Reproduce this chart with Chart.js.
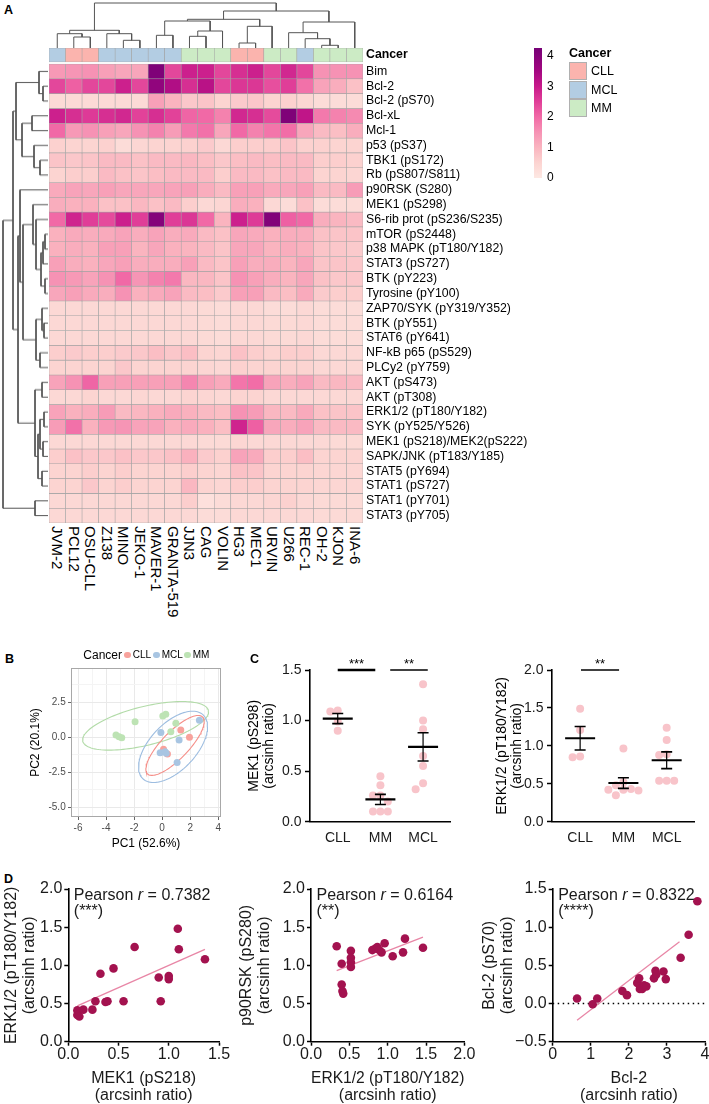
<!DOCTYPE html>
<html><head><meta charset="utf-8"><title>Figure</title>
<script src="https://cdn.jsdelivr.net/npm/chart.js@4.4.1/dist/chart.umd.min.js"></script>
<style>
html,body{margin:0;padding:0;background:#fff;}
#root{position:relative;width:709px;height:1104px;overflow:hidden;background:#fff;}
canvas{position:absolute;}
.t{position:absolute;white-space:nowrap;font-family:'Liberation Sans',Arial,Helvetica,sans-serif;color:#000;}
.v{writing-mode:vertical-rl;}
.box{position:absolute;box-sizing:border-box;}
</style></head><body><div id="root"></div><script>
// ---------------- DATA ----------------
const cellLines = ['JVM-2','PCL12','OSU-CLL','Z138','MINO','JEKO-1','MAVER-1','GRANTA-519','JJN3','CAG','VOLIN','HG3','MEC1','URVIN','U266','REC-1','OH-2','KJON','INA-6'];
const cellCancer = ['MCL','CLL','CLL','MCL','MCL','MCL','MCL','MCL','MM','MM','MM','CLL','CLL','MM','MM','MCL','MM','MM','MM'];
const proteins = ['Bim','Bcl-2','Bcl-2 (pS70)','Bcl-xL','Mcl-1','p53 (pS37)','TBK1 (pS172)','Rb (pS807/S811)','p90RSK (S280)','MEK1 (pS298)','S6-rib prot (pS236/S235)','mTOR (pS2448)','p38 MAPK (pT180/Y182)','STAT3 (pS727)','BTK (pY223)','Tyrosine (pY100)','ZAP70/SYK (pY319/Y352)','BTK (pY551)','STAT6 (pY641)','NF-kB p65 (pS529)','PLCy2 (pY759)','AKT (pS473)','AKT (pT308)','ERK1/2 (pT180/Y182)','SYK (pY525/Y526)','MEK1 (pS218)/MEK2(pS222)','SAPK/JNK (pT183/Y185)','STAT5 (pY694)','STAT1 (pS727)','STAT1 (pY701)','STAT3 (pY705)'];
const heat = [
[1.4,1.45,1.5,1.3,1.2,1.2,4.1,2.4,2.9,2.9,2.4,2.7,2.9,2.4,2.8,2.4,1.5,1.5,1.5],
[2.4,2.1,2.4,2.4,2.9,2.4,3.8,3.3,2.7,3.2,2.4,2.6,2.6,2.3,2.5,1.9,1.25,1.1,0.8],
[0.35,0.35,0.35,0.35,0.35,0.35,1.3,1.0,0.7,0.75,0.5,0.65,0.7,0.5,0.55,0.45,0.3,0.3,0.3],
[2.9,2.7,2.55,2.7,2.8,2.45,2.7,2.45,2.05,2.0,1.7,2.8,2.7,2.35,4.1,3.1,1.8,1.7,1.6],
[2.0,1.4,1.5,1.3,1.2,1.5,1.7,1.35,1.8,1.9,1.2,2.0,1.7,1.85,1.95,1.2,0.9,0.85,1.1],
[0.55,0.5,0.5,0.55,0.3,0.45,0.5,0.5,0.55,0.65,0.4,0.6,0.6,0.6,0.75,0.55,0.55,0.5,0.5],
[0.75,0.7,0.75,0.9,0.9,0.8,0.9,0.9,0.95,0.85,0.7,0.85,0.9,0.85,0.9,0.9,0.6,0.6,0.55],
[0.5,0.6,0.6,0.9,0.8,0.75,0.85,0.9,0.9,0.9,0.6,0.9,0.9,0.8,0.9,0.9,0.5,0.5,0.45],
[1.15,1.25,1.2,1.3,1.2,1.2,1.2,1.25,1.3,1.1,0.9,1.3,1.3,1.15,1.2,1.3,0.9,0.9,1.35],
[1.1,1.05,1.05,0.8,0.8,0.95,0.8,0.9,0.6,0.4,0.45,1.1,1.05,0.4,0.3,0.8,0.3,0.3,0.3],
[2.0,2.85,2.5,2.35,2.9,2.5,4.0,2.5,2.6,2.0,1.0,2.9,2.55,4.05,2.1,2.0,1.1,1.0,0.9],
[1.05,1.15,1.1,1.15,1.25,1.1,1.25,1.1,1.15,0.9,0.8,1.2,1.15,1.05,1.1,1.1,0.8,0.75,0.75],
[1.05,1.1,1.05,1.3,1.3,1.0,1.2,1.05,1.0,0.9,0.75,1.2,1.2,1.0,1.1,1.05,0.75,0.7,0.65],
[1.3,1.1,1.05,1.2,1.3,1.1,1.1,1.1,1.3,0.9,0.75,1.3,1.1,1.1,1.0,1.2,0.75,0.75,0.7],
[1.5,1.4,1.25,1.5,2.0,1.45,1.7,1.8,0.95,0.95,0.75,1.5,1.3,1.1,1.0,1.2,0.8,0.7,0.7],
[1.2,1.3,1.15,1.1,1.5,1.05,1.15,1.25,0.9,0.85,0.65,1.3,1.3,0.9,0.85,1.15,0.65,0.6,0.6],
[0.4,0.4,0.4,0.4,0.4,0.4,0.4,0.4,0.4,0.35,0.3,0.4,0.4,0.3,0.3,0.4,0.3,0.3,0.3],
[0.4,0.4,0.4,0.4,0.4,0.4,0.4,0.4,0.4,0.35,0.3,0.4,0.4,0.35,0.35,0.4,0.3,0.3,0.3],
[0.4,0.4,0.4,0.4,0.4,0.4,0.4,0.4,0.4,0.35,0.3,0.4,0.4,0.35,0.35,0.4,0.3,0.3,0.3],
[0.6,0.65,0.6,0.6,0.65,0.7,0.85,0.7,0.85,0.5,0.45,0.8,0.6,0.5,0.6,0.6,0.4,0.4,0.4],
[0.5,0.5,0.5,0.5,0.7,0.5,0.5,0.5,0.5,0.45,0.4,0.55,0.5,0.5,0.5,0.5,0.4,0.4,0.4],
[1.25,1.5,2.05,1.3,1.3,1.3,1.3,1.3,1.65,1.3,1.15,1.85,1.95,1.25,1.1,1.25,0.9,0.95,0.9],
[0.4,0.4,0.5,0.4,0.4,0.45,0.4,0.4,0.5,0.45,0.4,0.5,0.5,0.4,0.4,0.4,0.4,0.4,0.4],
[1.25,1.05,1.1,1.35,0.9,0.95,1.05,1.15,1.05,0.9,0.85,1.5,1.35,0.95,0.9,1.15,0.8,0.75,0.75],
[1.35,1.9,1.05,1.4,1.45,1.25,1.25,1.05,1.15,1.05,0.85,2.85,2.1,1.2,1.1,1.25,0.9,0.9,0.9],
[0.4,0.4,0.4,0.4,0.4,0.4,0.4,0.4,0.4,0.35,0.35,0.45,0.4,0.4,0.4,0.4,0.4,0.35,0.35],
[0.6,0.8,0.7,0.7,0.8,0.7,0.7,0.8,1.05,0.65,0.55,1.25,1.15,0.6,0.6,0.85,0.5,0.5,0.5],
[0.5,0.5,0.6,0.5,0.6,0.5,0.5,0.5,0.6,0.5,0.45,0.8,0.75,0.5,0.5,0.5,0.45,0.45,0.45],
[0.5,0.5,0.7,0.5,0.6,0.5,0.5,0.5,0.95,0.5,0.45,0.6,0.6,0.5,0.5,0.5,0.45,0.45,0.45],
[0.4,0.4,0.4,0.4,0.4,0.4,0.4,0.4,0.6,0.2,0.3,0.4,0.4,0.45,0.55,0.4,0.35,0.35,0.35],
[0.4,0.4,0.4,0.4,0.4,0.4,0.4,0.4,0.4,0.3,0.3,0.4,0.4,0.4,0.4,0.4,0.35,0.35,0.35]
];
// dendrogram merges: [childA, childB, height]; leaves are 0..n-1, merge k creates node n+k
const colMerges = [[1,2,11],[0,19,14.3],[4,5,7.7],[3,21,14.3],[20,22,17.7],[6,7,12.7],[8,9,11.7],[25,10,17],[24,26,27],[11,12,5],[28,13,21.7],[27,29,28.7],[16,17,2.7],[15,31,9.3],[14,32,15.3],[33,18,26],[30,34,37],[23,35,45]];
const rowMerges = [[1,2,5],[0,31,9],[3,4,16],[6,7,8],[5,34,14],[33,35,26],[32,36,32],[11,12,3],[38,13,5],[14,15,3],[39,40,7],[10,41,12],[9,42,15],[17,18,4],[16,44,6],[19,20,8],[45,46,12],[43,47,25],[8,48,28],[21,22,6],[23,24,4],[25,26,5],[51,52,8],[27,28,6],[53,54,10],[50,55,13],[49,56,30],[37,57,35],[29,30,13],[58,59,45]];
const colorbarTicks = [0,1,2,3,4];
const cancerTypes = ['CLL','MCL','MM'];
// Panel B (PCA)
const pc1CLL = [1.33,1.95,0.10,0.38], pc2CLL = [0.50,-0.02,-0.88,-1.21];
const pc1MCL = [-0.09,1.21,2.66,-0.14,0.21,0.29,1.07], pc2MCL = [0.33,-0.21,1.19,-1.12,-1.05,-1.16,-1.81];
const pc1MM = [-3.29,-3.07,-2.88,-1.93,0.05,0.26,0.98,0.62], pc2MM = [0.14,0.02,-0.05,1.09,1.50,1.62,0.98,0.38];
const ellCx = [0.92,0.78,-1.18], ellCy = [-0.6,-0.7,0.8], ellAx = [2.08,2.46,4.49], ellAy = [1.7,1.44,1.0], ellB = [1.3,2.1,1.42];
const pcTicksX = [-6,-5,-4,-3,-2,-1,0,1,2,3,4], pcTicksY = [-5,-3.75,-2.5,-1.25,0,1.25,2.5,3.75];
// Panel C
const groupsC = ['CLL','MM','MCL'];
const mek1CLL = [1.10,1.09,0.99,0.90], mek1MM = [0.45,0.36,0.26,0.26,0.20,0.10,0.10,0.10], mek1MCL = [1.36,1.00,0.915,0.65,0.55,0.38,0.32];
const mek1Mean = [1.02,0.22,0.74], mek1Sem = [0.05,0.05,0.14];
const mek1SigFrom = [0,1.23], mek1SigTo = [0.88,2.11], mek1SigText = ['***','**'];
const erkCLL = [1.49,1.21,0.86,0.85], erkMM = [0.965,0.52,0.48,0.43,0.42,0.42,0.41,0.35], erkMCL = [1.24,1.076,0.89,0.88,0.54,0.54,0.54];
const erkMean = [1.10,0.51,0.81], erkSem = [0.155,0.07,0.11];
const erkSigFrom = [0.02], erkSigTo = [0.9], erkSigText = ['**'];
const ticksC1 = [0,0.5,1,1.5], ticksC2 = [0,0.5,1,1.5,2];
// Panel D
const d1x = [0.09,0.09,0.11,0.15,0.24,0.27,0.32,0.45,0.37,0.39,0.55,0.66,0.90,0.92,1.00,1.00,1.09,1.10,1.36];
const d1y = [0.41,0.35,0.33,0.42,0.42,0.53,0.89,0.96,0.52,0.53,0.53,1.24,0.84,0.53,0.86,0.82,1.48,1.21,1.08];
const d1FitX = [0.09,1.36], d1FitY = [0.47,1.21];
const d2x = [0.335,0.40,0.40,0.41,0.42,0.52,0.52,0.52,0.52,0.80,0.84,0.865,0.89,0.92,0.96,1.065,1.20,1.225,1.46];
const d2y = [1.25,1.02,0.75,0.665,0.63,1.19,1.10,1.04,0.98,1.20,1.22,1.24,1.20,1.17,1.29,1.12,1.17,1.35,1.23];
const d2FitX = [0.335,1.46], d2FitY = [0.93,1.37];
const d3x = [0.64,1.05,1.17,1.83,1.95,2.22,2.27,2.29,2.35,2.40,2.46,2.66,2.70,2.72,2.91,2.97,3.36,3.57,3.80];
const d3y = [0.065,-0.01,0.065,0.165,0.11,0.27,0.33,0.19,0.19,0.24,0.225,0.33,0.43,0.38,0.42,0.32,0.60,0.90,1.34];
const d3FitX = [0.64,3.33], d3FitY = [-0.22,0.81];
const pearsonR = ['0.7382','0.6164','0.8322'], pearsonStars = ['(***)','(**)','(****)'];

// ---------------- HELPERS ----------------
const FONT = "'Liberation Sans', Arial, Helvetica, sans-serif";
Chart.defaults.font.family = FONT;
Chart.defaults.color = '#000';
Chart.defaults.animation = false;
Chart.defaults.responsive = false;
Chart.defaults.events = [];
Chart.defaults.plugins.legend.display = false;
Chart.defaults.plugins.tooltip.enabled = false;
const root = document.getElementById('root');
function canvasAt(l,t,w,h){const c=document.createElement('canvas');c.width=w;c.height=h;c.style.left=l+'px';c.style.top=t+'px';c.style.width=w+'px';c.style.height=h+'px';root.appendChild(c);return c;}
function text(html,x,base,o){o=o||{};const fs=o.size||12;const d=document.createElement('div');d.className='t';d.innerHTML=html;d.style.fontSize=fs+'px';d.style.lineHeight=fs+'px';if(o.bold)d.style.fontWeight='bold';if(o.color)d.style.color=o.color;d.style.top=(base-0.8465*fs)+'px';d.style.left='0px';root.appendChild(d);const w=d.getBoundingClientRect().width;let left=x;if(o.align==='center')left=x-w/2;else if(o.align==='right')left=x-w;d.style.left=left+'px';return d;}
function box(l,t,w,h,bg,border,radius){const d=document.createElement('div');d.className='box';d.style.cssText+=`left:${l}px;top:${t}px;width:${w}px;height:${h}px;background:${bg};`+(border?`border:1px solid ${border};`:'')+(radius?`border-radius:${radius}px;`:'');root.appendChild(d);return d;}
function fixSize(size){return s=>{if(s.isHorizontal())s.height=size;else s.width=size;s.paddingLeft=0;s.paddingRight=0;s.paddingTop=0;s.paddingBottom=0;};}
function setTicks(list){return s=>{s.ticks=list.map(v=>({value:v}));};}
const heatStops=[[0,[253,232,227]],[0.5,[252,212,209]],[1,[250,180,191]],[1.5,[246,146,180]],[2,[241,105,166]],[2.5,[224,62,152]],[3,[199,25,138]],[3.5,[163,7,129]],[4.25,[118,1,118]]];
function heatColor(v){let i=0;while(i<heatStops.length-2&&v>heatStops[i+1][0])i++;const [v0,c0]=heatStops[i],[v1,c1]=heatStops[i+1];let f=(v-v0)/(v1-v0);f=Math.max(0,Math.min(1,f));const c=c0.map((x,k)=>Math.round(x+(c1[k]-x)*f));return `rgb(${c[0]},${c[1]},${c[2]})`;}
const cancerColor={CLL:'#fbb4ae',MCL:'#b3cde3',MM:'#ccebc5'};
function dendroPath(merges,n){const pos=[],hgt=[];for(let i=0;i<n;i++){pos[i]=i;hgt[i]=0;}const pts=[];merges.forEach(([a,b,d],k)=>{const id=n+k;pos[id]=(pos[a]+pos[b])/2;hgt[id]=d;pts.push({p:pos[a],h:hgt[a]},{p:pos[a],h:d},{p:pos[b],h:d},{p:pos[b],h:hgt[b]},null);});return pts;}

// ---------------- PANEL A ----------------
text('A',4,15,{size:12.5,bold:true});
const HM={left:49,top:48,w:314,h:475};
const annoTop=-1.583, annoBot=-0.635;
const cellStyle={grouped:false,borderSkipped:false,borderWidth:0.6,borderColor:'#a3a3a3',barPercentage:1,categoryPercentage:1};
const hmDatasets=heat.map((row,r)=>Object.assign({data:row.map(()=>[r-0.5,r+0.5]),backgroundColor:row.map(heatColor)},cellStyle));
hmDatasets.push(Object.assign({data:cellCancer.map(()=>[annoTop,annoBot]),backgroundColor:cellCancer.map(c=>cancerColor[c])},cellStyle));
const rowTicks=[(annoTop+annoBot)/2].concat(proteins.map((p,i)=>i));
const hm=new Chart(canvasAt(HM.left,HM.top,HM.w+175,HM.h),{type:'bar',data:{labels:cellLines,datasets:hmDatasets},
 options:{layout:{padding:0},scales:{
  x:{display:false,offset:true},
  y:{type:'linear',position:'right',reverse:true,min:annoTop,max:proteins.length-0.5,grid:{display:false,drawTicks:false},border:{display:false},
     afterBuildTicks:setTicks(rowTicks),afterFit:fixSize(175),
     ticks:{autoSkip:false,padding:3,color:'#000',font:c=>(c.tick&&c.tick.value<-0.9)?{size:12.3,weight:'bold'}:{size:12.3},callback:v=>v<-0.9?'Cancer':proteins[Math.round(v)]}}
 }}});
cellLines.forEach((n,i)=>{const cx=HM.left+hm.scales.x.getPixelForValue(i);const d=document.createElement('div');d.className='t v';d.textContent=n;d.style.fontSize='15px';d.style.lineHeight='16px';d.style.width='16px';d.style.left=(cx-8)+'px';d.style.top='526px';root.appendChild(d);});
// top dendrogram
const colPath=dendroPath(colMerges,cellLines.length);
new Chart(canvasAt(HM.left,0,HM.w,48),{type:'scatter',data:{datasets:[{data:colPath.map(q=>q?{x:q.p,y:q.h}:{x:null,y:null}),showLine:true,spanGaps:false,pointRadius:0,borderColor:'#555',borderWidth:1,clip:false}]},
 options:{layout:{padding:0},scales:{x:{display:false,min:-0.5,max:cellLines.length-0.5},y:{display:false,min:0,max:48}}}});
// left dendrogram
const rowPath=dendroPath(rowMerges,proteins.length);
const rowTopPx=HM.top+hm.scales.y.getPixelForValue(-0.5), rowBotPx=HM.top+hm.scales.y.getPixelForValue(proteins.length-0.5);
new Chart(canvasAt(0,rowTopPx,48,rowBotPx-rowTopPx),{type:'scatter',data:{datasets:[{data:rowPath.map(q=>q?{x:q.h,y:q.p}:{x:null,y:null}),showLine:true,spanGaps:false,pointRadius:0,borderColor:'#555',borderWidth:1,clip:false}]},
 options:{layout:{padding:0},scales:{x:{display:false,min:0,max:48,reverse:true},y:{display:false,min:-0.5,max:proteins.length-0.5,reverse:true}}}});
// colour bar
function barGradient(ctx){const ch=ctx.chart,y=ch.scales&&ch.scales.y;if(!y)return '#f9b4bf';const p0=y.getPixelForValue(0),p1=y.getPixelForValue(4.25);if(!isFinite(p0)||!isFinite(p1)||p0===p1)return '#f9b4bf';const g=ch.ctx.createLinearGradient(0,p0,0,p1);for(let v=0;v<=4.25;v+=0.25)g.addColorStop(v/4.25,heatColor(v));return g;}
const cb=new Chart(canvasAt(534,40,38,146),{type:'bar',data:{labels:[''],datasets:[{data:[[0,4.25]],barPercentage:1,categoryPercentage:1,borderWidth:0,backgroundColor:barGradient}]},
 options:{layout:{padding:{top:8,bottom:8}},scales:{x:{display:false},y:{position:'right',min:0,max:4.25,afterBuildTicks:setTicks(colorbarTicks),afterFit:fixSize(30),grid:{display:false,drawTicks:false},border:{display:false},ticks:{padding:5,font:{size:12}}}}}});
cb.update();
// annotation legend
text('Cancer',569,57.5,{size:12.5,bold:true});
cancerTypes.forEach((c,i)=>{box(569.3,62.3+i*18.2,18.2,18.2,cancerColor[c],'#b0b0b0');text(c,591,76+i*18.2,{size:12.5});});

// ---------------- PANEL B ----------------
text('B',5,664,{size:12.5,bold:true});
const pcaCol=['#f8a29c','#a8c5e2','#bde3b4'], ellCol=['#f58e88','#9dbde0','#b2dba8'];
const pcaX=[pc1CLL,pc1MCL,pc1MM], pcaY=[pc2CLL,pc2MCL,pc2MM];
const bSets=[];
cancerTypes.forEach((c,g)=>{const pts=[];for(let k=0;k<=120;k++){const t=2*Math.PI*k/120;pts.push({x:ellCx[g]+ellAx[g]*Math.cos(t),y:ellCy[g]+ellAy[g]*Math.cos(t)+ellB[g]*Math.sin(t)});}
 bSets.push({data:pts,showLine:true,pointRadius:0,borderColor:ellCol[g],borderWidth:1.1});});
cancerTypes.forEach((c,g)=>{bSets.unshift({data:pcaX[g].map((x,i)=>({x:x,y:pcaY[g][i]})),pointRadius:3.5,backgroundColor:pcaCol[g],borderWidth:0});});
const panelBorder={id:'panelBorder',afterDraw(ch){const {ctx,chartArea:a}=ch;ctx.save();ctx.strokeStyle='#a8a8a8';ctx.lineWidth=1;ctx.strokeRect(Math.round(a.left)+0.5,Math.round(a.top)+0.5,Math.round(a.right-a.left)-1,Math.round(a.bottom-a.top)-1);ctx.restore();}};
new Chart(canvasAt(0,640,228,217),{type:'scatter',data:{datasets:bSets},plugins:[panelBorder],
 options:{layout:{padding:{left:24,top:28,right:7,bottom:2}},scales:{
  x:{min:-6.5,max:4.2,afterBuildTicks:setTicks(pcTicksX),afterFit:fixSize(38),border:{display:false},
     grid:{color:c=>c.tick&&c.tick.value%2===0?'#e9e9e9':'#f4f4f4',tickColor:c=>c.tick&&c.tick.value%2===0?'#666':'rgba(0,0,0,0)',tickLength:3},
     ticks:{autoSkip:false,maxRotation:0,padding:2,font:{size:10,lineHeight:1.2},color:'#4d4d4d',callback:v=>v%2===0?String(v):''},
     title:{display:true,text:'PC1 (52.6%)',font:{size:12,lineHeight:1.2},padding:{top:0,bottom:4},color:'#000'}},
  y:{min:-5.71,max:4.93,afterBuildTicks:setTicks(pcTicksY),afterFit:fixSize(47),border:{display:false},
     grid:{color:c=>c.tick&&c.tick.value%2.5===0?'#e9e9e9':'#f4f4f4',tickColor:c=>c.tick&&c.tick.value%2.5===0?'#666':'rgba(0,0,0,0)',tickLength:3},
     ticks:{autoSkip:false,padding:2.3,font:{size:10},color:'#4d4d4d',callback:v=>v%2.5===0?v.toFixed(1):''},
     title:{display:true,text:'PC2 (20.1%)',font:{size:12,lineHeight:1.2},padding:{top:4,bottom:0},color:'#000'}}
 }}});
text('Cancer',83.3,659.3,{size:12});
const legX=[127.7,156.7,187.7];
cancerTypes.forEach((c,i)=>{box(legX[i]-3.4,651.6,6.8,6.8,pcaCol[i],null,4);text(c,legX[i]+5,658.6,{size:10});});

// ---------------- PANEL C ----------------
text('C',250,664,{size:12.5,bold:true});
function swarm(vals,pxY,pxX,step,diam){const idx=vals.map((v,i)=>i).sort((a,b)=>vals[b]-vals[a]);const placed=[];const off=vals.map(()=>0);
 idx.forEach(i=>{const yp=vals[i]*pxY;for(let k=0;k<40;k++){const cand=k===0?0:(k%2===1?-1:1)*Math.ceil(k/2)*step;if(placed.every(p=>(p.x-cand)*(p.x-cand)+(p.y-yp)*(p.y-yp)>=diam*diam)){off[i]=cand/pxX;placed.push({x:cand,y:yp});break;}}});return off;}
function dotPlot(o){
 const sets=[];
 sets.push({data:o.mean.map((m,i)=>({x:i,y:m})),pointStyle:'line',pointRadius:15,pointBorderWidth:2.2,pointBorderColor:'#000',pointBackgroundColor:'#000'});
 const caps=[];o.mean.forEach((m,i)=>{caps.push({x:i,y:m-o.sem[i]},{x:i,y:m+o.sem[i]});});
 sets.push({data:caps,pointStyle:'line',pointRadius:5.5,pointBorderWidth:1.6,pointBorderColor:'#000'});
 const vert=[];o.mean.forEach((m,i)=>{vert.push({x:i,y:m-o.sem[i]},{x:i,y:m+o.sem[i]},{x:null,y:null});});
 sets.push({data:vert,showLine:true,spanGaps:false,pointRadius:0,borderColor:'#000',borderWidth:1.2});
 o.sigFrom.forEach((a,k)=>{sets.push({data:[{x:a,y:o.ymax},{x:o.sigTo[k],y:o.ymax}],showLine:true,pointRadius:0,borderColor:'#000',borderWidth:o.sigW[k],clip:false});});
 const pts=[];o.groups.forEach((vals,g)=>{const off=swarm(vals,o.pxY,o.pxX,8,7.5);vals.forEach((v,i)=>pts.push({x:g+off[i],y:v}));});
 sets.push({data:pts,pointRadius:4,backgroundColor:'#f8c4ca',borderWidth:0});
 const ch=new Chart(canvasAt(o.left,o.top,o.w,o.h),{type:'scatter',data:{datasets:sets},
  options:{layout:{padding:o.pad},scales:{
   x:{min:-0.65,max:2.65,afterBuildTicks:setTicks([0,1,2]),afterFit:fixSize(30),grid:{display:false,drawTicks:false},border:{display:true,color:'#000',width:1.6},
      ticks:{autoSkip:false,maxRotation:0,padding:9.3,font:{size:14,lineHeight:1},color:'#1a1a1a',callback:v=>groupsC[v]}},
   y:{min:0,max:o.ymax,afterBuildTicks:setTicks(o.yTicks),afterFit:fixSize(o.yW),grid:{drawOnChartArea:false,tickLength:5,tickColor:'#000',tickWidth:1.5},border:{display:true,color:'#000',width:1.6},
      ticks:{autoSkip:false,padding:3.5,font:{size:14,lineHeight:1},color:'#1a1a1a',callback:v=>v.toFixed(1)},
      title:{display:true,text:o.title,font:{size:14,lineHeight:1.1},padding:{top:0,bottom:0},color:'#000'}}
  }}});
 o.sigFrom.forEach((a,k)=>{const cx=o.left+ch.scales.x.getPixelForValue((a+o.sigTo[k])/2);const y=o.top+ch.scales.y.getPixelForValue(o.ymax);text(o.sigText[k],cx,y-1.7,{size:13,align:'center'});});
 return ch;
}
dotPlot({left:236,top:640,w:232,h:215,pad:{left:10.5,top:30,right:6,bottom:3.3},yW:63.5,ymax:1.5,yTicks:ticksC1,pxY:101,pxX:46,
 groups:[mek1CLL,mek1MM,mek1MCL],mean:mek1Mean,sem:mek1Sem,sigFrom:mek1SigFrom,sigTo:mek1SigTo,sigText:mek1SigText,sigW:[2.4,1.4],title:['MEK1 (pS298)','(arcsinh ratio)']});
dotPlot({left:480,top:640,w:232,h:215,pad:{left:14.2,top:30,right:5.3,bottom:3.3},yW:57.8,ymax:2,yTicks:ticksC2,pxY:76,pxX:46,
 groups:[erkCLL,erkMM,erkMCL],mean:erkMean,sem:erkSem,sigFrom:erkSigFrom,sigTo:erkSigTo,sigText:erkSigText,sigW:[1.4],title:['ERK1/2 (pT180/Y182)','(arcsinh ratio)']});

// ---------------- PANEL D ----------------
text('D',4,884,{size:12.5,bold:true});
const fmt1=v=>(v<0?'\u2212':'')+Math.abs(v).toFixed(1);
function scatterPlot(o){
 const sets=[{data:o.x.map((x,i)=>({x:x,y:o.y[i]})),pointRadius:4.3,backgroundColor:'#a3124f',borderWidth:0},
  {data:o.fitX.map((x,i)=>({x:x,y:o.fitY[i]})),showLine:true,pointRadius:0,borderColor:'#e886a6',borderWidth:1.3}];
 if(o.zero)sets.push({data:[{x:o.xmin,y:0},{x:o.xmax,y:0}],showLine:true,pointRadius:0,borderColor:'#000',borderWidth:1.5,borderDash:[1.5,3.5]});
 const ch=new Chart(canvasAt(o.left,875,o.w,231),{type:'scatter',data:{datasets:sets},
  options:{layout:{padding:o.pad},scales:{
   x:{min:o.xmin,max:o.xmax,afterBuildTicks:setTicks(o.xTicks),afterFit:fixSize(63.1),grid:{drawOnChartArea:false,tickLength:4,tickColor:'#000',tickWidth:1.5},border:{display:true,color:'#000',width:1.6},
      ticks:{autoSkip:false,maxRotation:0,padding:1,font:{size:16,lineHeight:1},color:'#1a1a1a',callback:o.xFmt},
      title:{display:true,text:o.xTitle,font:{size:16,lineHeight:1.1},padding:{top:0,bottom:0},color:'#1a1a1a'}},
   y:{min:o.ymin,max:o.ymax,afterBuildTicks:setTicks(o.yTicks),afterFit:fixSize(o.yW),grid:{drawOnChartArea:false,tickLength:4,tickColor:'#000',tickWidth:1.5},border:{display:true,color:'#000',width:1.6},
      ticks:{autoSkip:false,padding:2,font:{size:16,lineHeight:1},color:'#1a1a1a',callback:fmt1},
      title:{display:true,text:o.yTitle,font:{size:16,lineHeight:1.1},padding:{top:0,bottom:0},color:'#1a1a1a'}}
  }}});
 const ax=o.left+ch.chartArea.left, ty=875+ch.chartArea.top;
 text('Pearson <i>r</i> = '+o.r,ax+5.5,ty+11.5,{size:16,color:'#1a1a1a'});
 text(o.stars,ax+5.5,ty+27.5,{size:16,color:'#1a1a1a'});
 return ch;
}
scatterPlot({left:0,w:232,pad:{left:2.9,top:14,right:13,bottom:1.2},yW:65.4,x:d1x,y:d1y,fitX:d1FitX,fitY:d1FitY,xmin:0,xmax:1.5,xTicks:[0,0.5,1,1.5],xFmt:fmt1,ymin:0,ymax:2,yTicks:[0,0.5,1,1.5,2],
 xTitle:['MEK1 (pS218)','(arcsinh ratio)'],yTitle:['ERK1/2 (pT180/Y182)','(arcsinh ratio)'],r:pearsonR[0],stars:pearsonStars[0]});
scatterPlot({left:232,w:250,pad:{left:5.9,top:14,right:17.6,bottom:1.2},yW:73.1,x:d2x,y:d2y,fitX:d2FitX,fitY:d2FitY,xmin:0,xmax:2,xTicks:[0,0.5,1,1.5,2],xFmt:fmt1,ymin:0,ymax:2,yTicks:[0,0.5,1,1.5,2],
 xTitle:['ERK1/2 (pT180/Y182)','(arcsinh ratio)'],yTitle:['p90RSK (pS280)','(arcsinh ratio)'],r:pearsonR[1],stars:pearsonStars[1]});
scatterPlot({left:470,w:245,pad:{left:11.2,top:14,right:10,bottom:1.2},yW:71.5,x:d3x,y:d3y,fitX:d3FitX,fitY:d3FitY,zero:true,xmin:0,xmax:4,xTicks:[0,1,2,3,4],xFmt:v=>String(v),ymin:-0.5,ymax:1.5,yTicks:[-0.5,0,0.5,1,1.5],
 xTitle:['Bcl-2','(arcsinh ratio)'],yTitle:['Bcl-2 (pS70)','(arcsinh ratio)'],r:pearsonR[2],stars:pearsonStars[2]});
</script></body></html>
